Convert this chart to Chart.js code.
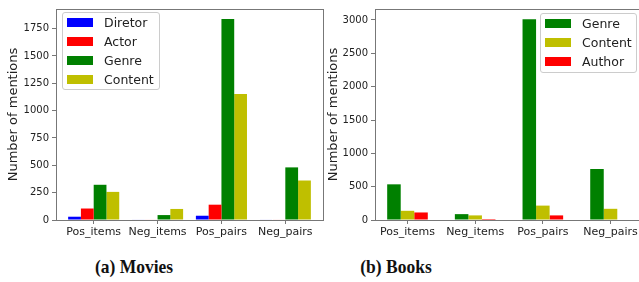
<!DOCTYPE html>
<html>
<head>
<meta charset="utf-8">
<script src="https://cdn.jsdelivr.net/npm/chart.js@4/dist/chart.umd.min.js"></script>
<style>
  html, body { margin: 0; padding: 0; background: #fff; overflow: hidden; }
  #wrap { position: relative; width: 639px; height: 282px; overflow: hidden; }
  canvas { position: absolute; top: 0; }
  .legend { position: absolute; border: 1px solid #ccc; border-radius: 3px;
            background: rgba(255,255,255,0.85); box-sizing: border-box; }
  .legend .row { display: flex; align-items: center; height: 19px;
                 font: 12.5px "DejaVu Sans", sans-serif; color: #222; }
  .legend .patch { width: 26px; height: 9px; margin-left: 4px; margin-right: 11px; }
  .caption { position: absolute; top: 257px; width: 200px; text-align: center;
             font: bold 19px "Liberation Serif", serif; line-height: 20px; color: #111;
             transform: scaleX(0.92); }
</style>
</head>
<body>
<div id="wrap">
  <canvas id="movies" width="330" height="240" style="left:0"></canvas>
  <canvas id="books" width="330" height="240" style="left:320px"></canvas>
  <div id="leg-movies" class="legend" style="left:62px; top:12px; width:98px; height:78px"></div>
  <div id="leg-books" class="legend" style="left:540px; top:13px; width:97px; height:60px"></div>
  <div class="caption" style="left:34px">(a) Movies</div>
  <div class="caption" style="left:296px">(b) Books</div>
</div>
<script>
// ── Data ──────────────────────────────────────────────────────────────────────
const CATEGORIES = ["Pos_items", "Neg_items", "Pos_pairs", "Neg_pairs"];

const MOVIE_DIRETOR = [30, 5, 39, 5];
const MOVIE_ACTOR   = [105, 5, 140, 5];
const MOVIE_GENRE   = [322, 45, 1837, 481];
const MOVIE_CONTENT = [257, 101, 1153, 361];

const BOOK_GENRE   = [535, 88, 3010, 765];
const BOOK_CONTENT = [138, 69, 216, 168];
const BOOK_AUTHOR  = [113, 15, 69, 0];

const MOVIE_Y_TICKS = [0, 250, 500, 750, 1000, 1250, 1500, 1750];
const BOOK_Y_TICKS  = [0, 500, 1000, 1500, 2000, 2500, 3000];

const BLUE = "#0000ff", RED = "#ff0000", GREEN = "#008000", YELLOW = "#bfbf00";

// ── Helpers ───────────────────────────────────────────────────────────────────
const frame = {
  id: "frame",
  afterDraw(chart) {
    const { ctx, chartArea: a } = chart;
    ctx.save();
    ctx.strokeStyle = "#777";
    ctx.lineWidth = 1;
    ctx.strokeRect(Math.round(a.left) + 0.5, Math.round(a.top) + 0.5,
                   Math.round(a.right - a.left), Math.round(a.bottom - a.top));
    ctx.restore();
  },
};

function makeChart(id, series, yTicks, yMax, xMin, xMax, catPct, yWidth) {
  return new Chart(document.getElementById(id), {
    type: "bar",
    data: {
      datasets: series.map(s => ({
        label: s.label,
        data: s.values.map((v, i) => ({ x: i, y: v })),
        backgroundColor: s.color,
        borderWidth: 0,
        categoryPercentage: catPct,
        barPercentage: 1,
      })),
    },
    plugins: [frame],
    options: {
      responsive: false,
      animation: false,
      layout: { padding: { top: 5, right: 7, left: 0, bottom: 0 } },
      plugins: { legend: { display: false }, tooltip: { enabled: false } },
      scales: {
        x: {
          type: "linear", min: xMin, max: xMax, offset: false,
          grid: { drawOnChartArea: false, offset: false, tickLength: 4, color: "#777" },
          border: { display: false },
          afterBuildTicks: sc => { sc.ticks = CATEGORIES.map((_, i) => ({ value: i })); },
          afterFit: sc => { sc.height = 20; },
          ticks: {
            autoSkip: false, maxRotation: 0, padding: 2, color: "#222",
            font: { family: "DejaVu Sans", size: 11 },
            callback: v => CATEGORIES[v],
          },
        },
        y: {
          min: 0, max: yMax,
          grid: { drawOnChartArea: false, tickLength: 4, color: "#777" },
          border: { display: false },
          afterBuildTicks: sc => { sc.ticks = yTicks.map(v => ({ value: v })); },
          afterFit: sc => { sc.width = yWidth; },
          ticks: {
            padding: 3, color: "#222", font: { family: "DejaVu Sans", size: 10 },
            callback: v => String(v),
          },
          title: {
            display: true, text: "Number of mentions", color: "#222",
            padding: { top: 6, bottom: 0 },
            font: { family: "DejaVu Sans", size: 13 },
          },
        },
      },
    },
  });
}

function renderLegend(id, series) {
  document.getElementById(id).innerHTML = series.map(s =>
    `<div class="row"><span class="patch" style="background:${s.color}"></span>${s.label}</div>`
  ).join("");
}

// ── Init ──────────────────────────────────────────────────────────────────────
const movieSeries = [
  { label: "Diretor", values: MOVIE_DIRETOR, color: BLUE },
  { label: "Actor",   values: MOVIE_ACTOR,   color: RED },
  { label: "Genre",   values: MOVIE_GENRE,   color: GREEN },
  { label: "Content", values: MOVIE_CONTENT, color: YELLOW },
];
const bookSeries = [
  { label: "Genre",   values: BOOK_GENRE,   color: GREEN },
  { label: "Content", values: BOOK_CONTENT, color: YELLOW },
  { label: "Author",  values: BOOK_AUTHOR,  color: RED },
];

makeChart("movies", movieSeries, MOVIE_Y_TICKS, 1929, -0.59, 3.59, 0.8, 56);
makeChart("books",  bookSeries,  BOOK_Y_TICKS,  3165, -0.48, 3.48, 0.6, 55);
renderLegend("leg-movies", movieSeries);
renderLegend("leg-books", bookSeries);
</script>
</body>
</html>
